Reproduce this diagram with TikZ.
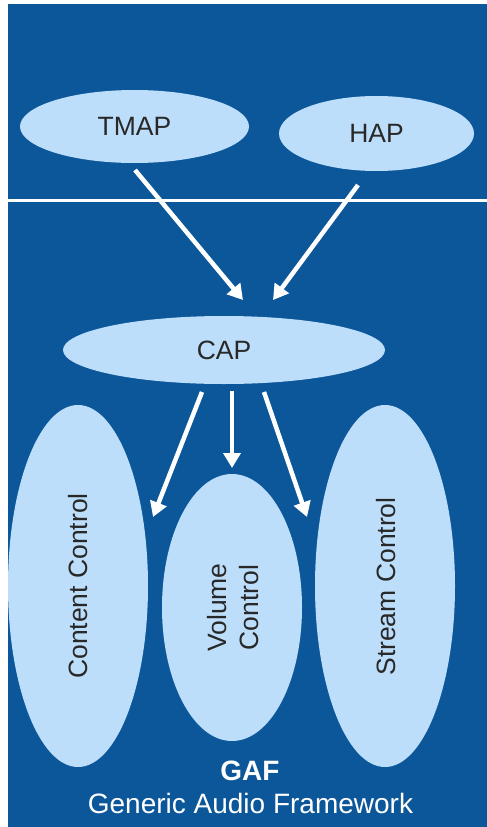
\documentclass[tikz,border=0pt]{standalone}
\usepackage{fontspec}
\setmainfont{Liberation Sans}
\usetikzlibrary{arrows.meta,shapes.geometric}
\definecolor{gafblue}{RGB}{12,87,153}
\definecolor{profile}{RGB}{189,222,250}
\definecolor{labeltext}{RGB}{40,40,40}
\begin{document}
\begin{tikzpicture}[x=1pt,y=-1pt,
  profnode/.style={ellipse,fill=profile,draw=none,inner sep=0pt,text=labeltext,
    font=\fontsize{26.5}{31}\selectfont},
  flow/.style={draw=white,line width=4.5pt,
    -{Triangle[length=15pt,width=17pt]}}]
  \useasboundingbox (0,0) rectangle (487,827);
  % framework background and layer separator
  \fill[gafblue] (8,4) rectangle (487,827);
  \draw[white,line width=3pt] (8,200) -- (487,200);

  % profiles
  \node[profnode,minimum width=229pt,minimum height=73pt] (tmap) at (134.5,126.5) {TMAP};
  \node[profnode,minimum width=195pt,minimum height=75pt] (hap) at (376.5,133.5) {HAP};
  \node[profnode,minimum width=322pt,minimum height=68pt] (cap) at (224,350) {CAP};

  % control services
  \node[profnode,minimum width=140pt,minimum height=362pt] (content) at (78,586) {};
  \node[profnode,minimum width=140pt,minimum height=267pt] (volume) at (232,607.5) {};
  \node[profnode,minimum width=140pt,minimum height=362pt] (stream) at (385,586) {};
  \node[rotate=90,text=labeltext,font=\fontsize{26.5}{31}\selectfont] (contentlbl) at (content.center) {Content Control};
  \node[rotate=90,text=labeltext,align=center,font=\fontsize{26.5}{31.5}\selectfont] (volumelbl) at (233,607.5) {Volume\\Control};
  \node[rotate=90,text=labeltext,font=\fontsize{26.5}{31}\selectfont] (streamlbl) at (386.5,586.5) {Stream Control};

  % arrow end points
  \coordinate (tmapout) at (135,170);
  \coordinate (capinl) at (243,300);
  \coordinate (hapout) at (358,185);
  \coordinate (capinr) at (273,300);
  \coordinate (capoutl) at (202,392);
  \coordinate (contentin) at (153,517);
  \coordinate (capoutm) at (232,391);
  \coordinate (volumein) at (232,468);
  \coordinate (capoutr) at (264,392);
  \coordinate (streamin) at (307,517);

  \draw[flow] (tmapout) -- (capinl);
  \draw[flow] (hapout) -- (capinr);
  \draw[flow] (capoutl) -- (contentin);
  \draw[flow] (capoutm) -- (volumein);
  \draw[flow] (capoutr) -- (streamin);

  % framework title
  \node[white,font=\bfseries\fontsize{28}{33}\selectfont,anchor=base] (gaf) at (250,780) {GAF};
  \node[white,font=\fontsize{28}{33}\selectfont,anchor=base] (gafname) at (250.5,813) {Generic Audio Framework};
\end{tikzpicture}
\end{document}
